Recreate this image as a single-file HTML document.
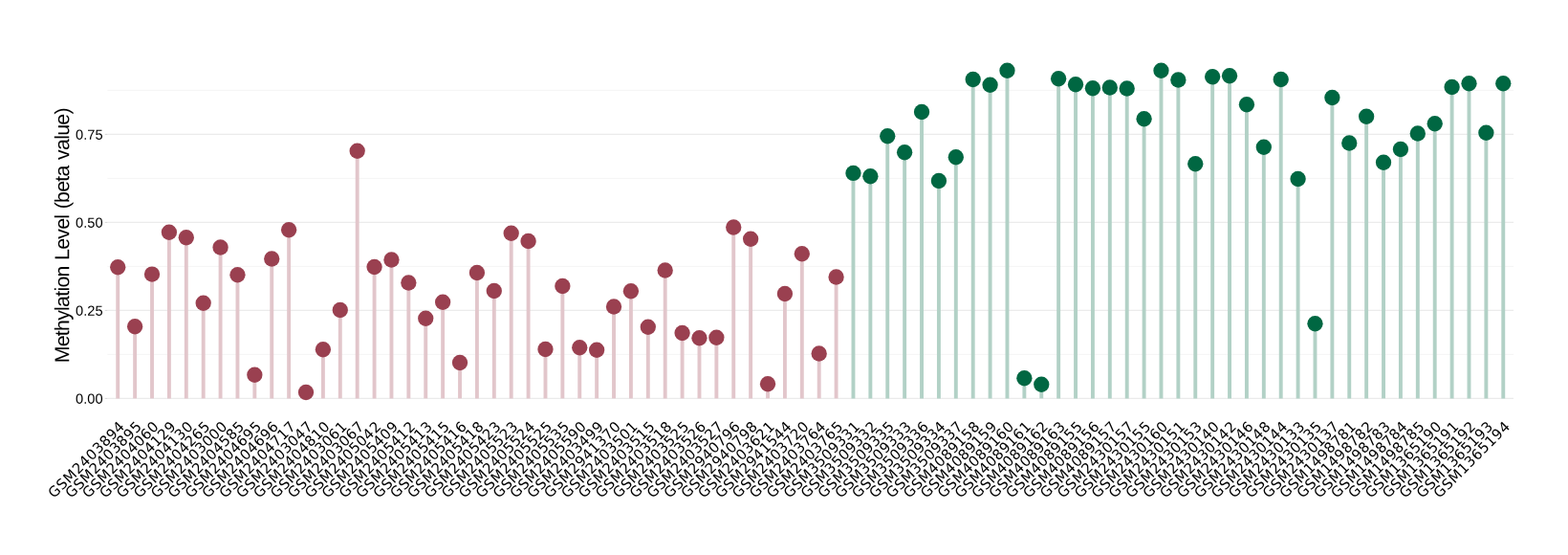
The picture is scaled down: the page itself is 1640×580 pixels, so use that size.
<!DOCTYPE html>
<html lang="en"><head><meta charset="utf-8"><title>Methylation Level</title>
<style>html,body{margin:0;padding:0;background:#fff}body{width:1640px;height:580px;overflow:hidden}svg{display:block}.yl{font-family:"Liberation Sans",sans-serif;font-size:14.67px;fill:#000;text-anchor:end}.yt{font-family:"Liberation Sans",sans-serif;font-size:21.33px;fill:#000;text-anchor:middle;word-spacing:1.2px}.xl{font-family:"DejaVu Sans",sans-serif;font-size:14.93px;fill:#000;text-anchor:end}</style></head><body>
<svg width="1640" height="580" viewBox="0 0 1640 580">
<rect width="1640" height="580" fill="#fff"/>
<line x1="112.50" x2="1583.00" y1="416.40" y2="416.40" stroke="#EBEBEB" stroke-width="1.07"/>
<line x1="109.75" x2="112.50" y1="416.40" y2="416.40" stroke="#D9D9D9" stroke-width="1.07"/>
<line x1="112.50" x2="1583.00" y1="370.40" y2="370.40" stroke="#EBEBEB" stroke-width="0.53"/>
<line x1="112.50" x2="1583.00" y1="324.40" y2="324.40" stroke="#EBEBEB" stroke-width="1.07"/>
<line x1="109.75" x2="112.50" y1="324.40" y2="324.40" stroke="#D9D9D9" stroke-width="1.07"/>
<line x1="112.50" x2="1583.00" y1="278.40" y2="278.40" stroke="#EBEBEB" stroke-width="0.53"/>
<line x1="112.50" x2="1583.00" y1="232.40" y2="232.40" stroke="#EBEBEB" stroke-width="1.07"/>
<line x1="109.75" x2="112.50" y1="232.40" y2="232.40" stroke="#D9D9D9" stroke-width="1.07"/>
<line x1="112.50" x2="1583.00" y1="186.40" y2="186.40" stroke="#EBEBEB" stroke-width="0.53"/>
<line x1="112.50" x2="1583.00" y1="140.40" y2="140.40" stroke="#EBEBEB" stroke-width="1.07"/>
<line x1="109.75" x2="112.50" y1="140.40" y2="140.40" stroke="#D9D9D9" stroke-width="1.07"/>
<line x1="112.50" x2="1583.00" y1="94.40" y2="94.40" stroke="#EBEBEB" stroke-width="0.53"/>
<line x1="123.23" x2="123.23" y1="279.25" y2="416.40" stroke="#E2C6CB" stroke-width="3.9"/>
<line x1="141.12" x2="141.12" y1="341.25" y2="416.40" stroke="#E2C6CB" stroke-width="3.9"/>
<line x1="159.01" x2="159.01" y1="286.60" y2="416.40" stroke="#E2C6CB" stroke-width="3.9"/>
<line x1="176.90" x2="176.90" y1="242.75" y2="416.40" stroke="#E2C6CB" stroke-width="3.9"/>
<line x1="194.79" x2="194.79" y1="248.25" y2="416.40" stroke="#E2C6CB" stroke-width="3.9"/>
<line x1="212.68" x2="212.68" y1="316.75" y2="416.40" stroke="#E2C6CB" stroke-width="3.9"/>
<line x1="230.57" x2="230.57" y1="258.50" y2="416.40" stroke="#E2C6CB" stroke-width="3.9"/>
<line x1="248.46" x2="248.46" y1="287.25" y2="416.40" stroke="#E2C6CB" stroke-width="3.9"/>
<line x1="266.35" x2="266.35" y1="391.75" y2="416.40" stroke="#E2C6CB" stroke-width="3.9"/>
<line x1="284.24" x2="284.24" y1="270.50" y2="416.40" stroke="#E2C6CB" stroke-width="3.9"/>
<line x1="302.13" x2="302.13" y1="240.25" y2="416.40" stroke="#E2C6CB" stroke-width="3.9"/>
<line x1="320.02" x2="320.02" y1="410.00" y2="416.40" stroke="#E2C6CB" stroke-width="3.9"/>
<line x1="337.91" x2="337.91" y1="365.25" y2="416.40" stroke="#E2C6CB" stroke-width="3.9"/>
<line x1="355.79" x2="355.79" y1="324.00" y2="416.40" stroke="#E2C6CB" stroke-width="3.9"/>
<line x1="373.68" x2="373.68" y1="157.75" y2="416.40" stroke="#E2C6CB" stroke-width="3.9"/>
<line x1="391.57" x2="391.57" y1="279.00" y2="416.40" stroke="#E2C6CB" stroke-width="3.9"/>
<line x1="409.46" x2="409.46" y1="271.50" y2="416.40" stroke="#E2C6CB" stroke-width="3.9"/>
<line x1="427.35" x2="427.35" y1="295.50" y2="416.40" stroke="#E2C6CB" stroke-width="3.9"/>
<line x1="445.24" x2="445.24" y1="332.75" y2="416.40" stroke="#E2C6CB" stroke-width="3.9"/>
<line x1="463.13" x2="463.13" y1="315.75" y2="416.40" stroke="#E2C6CB" stroke-width="3.9"/>
<line x1="481.02" x2="481.02" y1="379.00" y2="416.40" stroke="#E2C6CB" stroke-width="3.9"/>
<line x1="498.91" x2="498.91" y1="285.00" y2="416.40" stroke="#E2C6CB" stroke-width="3.9"/>
<line x1="516.80" x2="516.80" y1="304.00" y2="416.40" stroke="#E2C6CB" stroke-width="3.9"/>
<line x1="534.69" x2="534.69" y1="243.75" y2="416.40" stroke="#E2C6CB" stroke-width="3.9"/>
<line x1="552.58" x2="552.58" y1="252.00" y2="416.40" stroke="#E2C6CB" stroke-width="3.9"/>
<line x1="570.47" x2="570.47" y1="365.00" y2="416.40" stroke="#E2C6CB" stroke-width="3.9"/>
<line x1="588.36" x2="588.36" y1="299.00" y2="416.40" stroke="#E2C6CB" stroke-width="3.9"/>
<line x1="606.24" x2="606.24" y1="363.25" y2="416.40" stroke="#E2C6CB" stroke-width="3.9"/>
<line x1="624.13" x2="624.13" y1="365.75" y2="416.40" stroke="#E2C6CB" stroke-width="3.9"/>
<line x1="642.02" x2="642.02" y1="320.50" y2="416.40" stroke="#E2C6CB" stroke-width="3.9"/>
<line x1="659.91" x2="659.91" y1="304.25" y2="416.40" stroke="#E2C6CB" stroke-width="3.9"/>
<line x1="677.80" x2="677.80" y1="341.75" y2="416.40" stroke="#E2C6CB" stroke-width="3.9"/>
<line x1="695.69" x2="695.69" y1="282.50" y2="416.40" stroke="#E2C6CB" stroke-width="3.9"/>
<line x1="713.58" x2="713.58" y1="348.00" y2="416.40" stroke="#E2C6CB" stroke-width="3.9"/>
<line x1="731.47" x2="731.47" y1="353.25" y2="416.40" stroke="#E2C6CB" stroke-width="3.9"/>
<line x1="749.36" x2="749.36" y1="352.75" y2="416.40" stroke="#E2C6CB" stroke-width="3.9"/>
<line x1="767.25" x2="767.25" y1="237.50" y2="416.40" stroke="#E2C6CB" stroke-width="3.9"/>
<line x1="785.14" x2="785.14" y1="249.75" y2="416.40" stroke="#E2C6CB" stroke-width="3.9"/>
<line x1="803.03" x2="803.03" y1="401.25" y2="416.40" stroke="#E2C6CB" stroke-width="3.9"/>
<line x1="820.92" x2="820.92" y1="307.00" y2="416.40" stroke="#E2C6CB" stroke-width="3.9"/>
<line x1="838.81" x2="838.81" y1="265.25" y2="416.40" stroke="#E2C6CB" stroke-width="3.9"/>
<line x1="856.69" x2="856.69" y1="369.50" y2="416.40" stroke="#E2C6CB" stroke-width="3.9"/>
<line x1="874.58" x2="874.58" y1="289.50" y2="416.40" stroke="#E2C6CB" stroke-width="3.9"/>
<line x1="892.47" x2="892.47" y1="180.90" y2="416.40" stroke="#B2D1C6" stroke-width="3.9"/>
<line x1="910.36" x2="910.36" y1="184.25" y2="416.40" stroke="#B2D1C6" stroke-width="3.9"/>
<line x1="928.25" x2="928.25" y1="142.25" y2="416.40" stroke="#B2D1C6" stroke-width="3.9"/>
<line x1="946.14" x2="946.14" y1="159.25" y2="416.40" stroke="#B2D1C6" stroke-width="3.9"/>
<line x1="964.03" x2="964.03" y1="117.00" y2="416.40" stroke="#B2D1C6" stroke-width="3.9"/>
<line x1="981.92" x2="981.92" y1="189.00" y2="416.40" stroke="#B2D1C6" stroke-width="3.9"/>
<line x1="999.81" x2="999.81" y1="164.25" y2="416.40" stroke="#B2D1C6" stroke-width="3.9"/>
<line x1="1017.70" x2="1017.70" y1="83.00" y2="416.40" stroke="#B2D1C6" stroke-width="3.9"/>
<line x1="1035.59" x2="1035.59" y1="88.75" y2="416.40" stroke="#B2D1C6" stroke-width="3.9"/>
<line x1="1053.48" x2="1053.48" y1="73.75" y2="416.40" stroke="#B2D1C6" stroke-width="3.9"/>
<line x1="1071.37" x2="1071.37" y1="395.25" y2="416.40" stroke="#B2D1C6" stroke-width="3.9"/>
<line x1="1089.26" x2="1089.26" y1="401.75" y2="416.40" stroke="#B2D1C6" stroke-width="3.9"/>
<line x1="1107.14" x2="1107.14" y1="82.25" y2="416.40" stroke="#B2D1C6" stroke-width="3.9"/>
<line x1="1125.03" x2="1125.03" y1="88.25" y2="416.40" stroke="#B2D1C6" stroke-width="3.9"/>
<line x1="1142.92" x2="1142.92" y1="92.25" y2="416.40" stroke="#B2D1C6" stroke-width="3.9"/>
<line x1="1160.81" x2="1160.81" y1="91.50" y2="416.40" stroke="#B2D1C6" stroke-width="3.9"/>
<line x1="1178.70" x2="1178.70" y1="92.50" y2="416.40" stroke="#B2D1C6" stroke-width="3.9"/>
<line x1="1196.59" x2="1196.59" y1="124.25" y2="416.40" stroke="#B2D1C6" stroke-width="3.9"/>
<line x1="1214.48" x2="1214.48" y1="73.75" y2="416.40" stroke="#B2D1C6" stroke-width="3.9"/>
<line x1="1232.37" x2="1232.37" y1="83.50" y2="416.40" stroke="#B2D1C6" stroke-width="3.9"/>
<line x1="1250.26" x2="1250.26" y1="171.25" y2="416.40" stroke="#B2D1C6" stroke-width="3.9"/>
<line x1="1268.15" x2="1268.15" y1="80.25" y2="416.40" stroke="#B2D1C6" stroke-width="3.9"/>
<line x1="1286.04" x2="1286.04" y1="79.25" y2="416.40" stroke="#B2D1C6" stroke-width="3.9"/>
<line x1="1303.93" x2="1303.93" y1="109.25" y2="416.40" stroke="#B2D1C6" stroke-width="3.9"/>
<line x1="1321.82" x2="1321.82" y1="153.75" y2="416.40" stroke="#B2D1C6" stroke-width="3.9"/>
<line x1="1339.71" x2="1339.71" y1="83.00" y2="416.40" stroke="#B2D1C6" stroke-width="3.9"/>
<line x1="1357.59" x2="1357.59" y1="187.00" y2="416.40" stroke="#B2D1C6" stroke-width="3.9"/>
<line x1="1375.48" x2="1375.48" y1="338.25" y2="416.40" stroke="#B2D1C6" stroke-width="3.9"/>
<line x1="1393.37" x2="1393.37" y1="102.00" y2="416.40" stroke="#B2D1C6" stroke-width="3.9"/>
<line x1="1411.26" x2="1411.26" y1="149.50" y2="416.40" stroke="#B2D1C6" stroke-width="3.9"/>
<line x1="1429.15" x2="1429.15" y1="121.75" y2="416.40" stroke="#B2D1C6" stroke-width="3.9"/>
<line x1="1447.04" x2="1447.04" y1="169.75" y2="416.40" stroke="#B2D1C6" stroke-width="3.9"/>
<line x1="1464.93" x2="1464.93" y1="156.00" y2="416.40" stroke="#B2D1C6" stroke-width="3.9"/>
<line x1="1482.82" x2="1482.82" y1="139.50" y2="416.40" stroke="#B2D1C6" stroke-width="3.9"/>
<line x1="1500.71" x2="1500.71" y1="129.25" y2="416.40" stroke="#B2D1C6" stroke-width="3.9"/>
<line x1="1518.60" x2="1518.60" y1="91.00" y2="416.40" stroke="#B2D1C6" stroke-width="3.9"/>
<line x1="1536.49" x2="1536.49" y1="87.25" y2="416.40" stroke="#B2D1C6" stroke-width="3.9"/>
<line x1="1554.38" x2="1554.38" y1="138.75" y2="416.40" stroke="#B2D1C6" stroke-width="3.9"/>
<line x1="1572.27" x2="1572.27" y1="87.25" y2="416.40" stroke="#B2D1C6" stroke-width="3.9"/>
<circle cx="123.23" cy="279.25" r="8.15" fill="#9A4050"/>
<circle cx="141.12" cy="341.25" r="8.15" fill="#9A4050"/>
<circle cx="159.01" cy="286.60" r="8.15" fill="#9A4050"/>
<circle cx="176.90" cy="242.75" r="8.15" fill="#9A4050"/>
<circle cx="194.79" cy="248.25" r="8.15" fill="#9A4050"/>
<circle cx="212.68" cy="316.75" r="8.15" fill="#9A4050"/>
<circle cx="230.57" cy="258.50" r="8.15" fill="#9A4050"/>
<circle cx="248.46" cy="287.25" r="8.15" fill="#9A4050"/>
<circle cx="266.35" cy="391.75" r="8.15" fill="#9A4050"/>
<circle cx="284.24" cy="270.50" r="8.15" fill="#9A4050"/>
<circle cx="302.13" cy="240.25" r="8.15" fill="#9A4050"/>
<circle cx="320.02" cy="410.00" r="8.15" fill="#9A4050"/>
<circle cx="337.91" cy="365.25" r="8.15" fill="#9A4050"/>
<circle cx="355.79" cy="324.00" r="8.15" fill="#9A4050"/>
<circle cx="373.68" cy="157.75" r="8.15" fill="#9A4050"/>
<circle cx="391.57" cy="279.00" r="8.15" fill="#9A4050"/>
<circle cx="409.46" cy="271.50" r="8.15" fill="#9A4050"/>
<circle cx="427.35" cy="295.50" r="8.15" fill="#9A4050"/>
<circle cx="445.24" cy="332.75" r="8.15" fill="#9A4050"/>
<circle cx="463.13" cy="315.75" r="8.15" fill="#9A4050"/>
<circle cx="481.02" cy="379.00" r="8.15" fill="#9A4050"/>
<circle cx="498.91" cy="285.00" r="8.15" fill="#9A4050"/>
<circle cx="516.80" cy="304.00" r="8.15" fill="#9A4050"/>
<circle cx="534.69" cy="243.75" r="8.15" fill="#9A4050"/>
<circle cx="552.58" cy="252.00" r="8.15" fill="#9A4050"/>
<circle cx="570.47" cy="365.00" r="8.15" fill="#9A4050"/>
<circle cx="588.36" cy="299.00" r="8.15" fill="#9A4050"/>
<circle cx="606.24" cy="363.25" r="8.15" fill="#9A4050"/>
<circle cx="624.13" cy="365.75" r="8.15" fill="#9A4050"/>
<circle cx="642.02" cy="320.50" r="8.15" fill="#9A4050"/>
<circle cx="659.91" cy="304.25" r="8.15" fill="#9A4050"/>
<circle cx="677.80" cy="341.75" r="8.15" fill="#9A4050"/>
<circle cx="695.69" cy="282.50" r="8.15" fill="#9A4050"/>
<circle cx="713.58" cy="348.00" r="8.15" fill="#9A4050"/>
<circle cx="731.47" cy="353.25" r="8.15" fill="#9A4050"/>
<circle cx="749.36" cy="352.75" r="8.15" fill="#9A4050"/>
<circle cx="767.25" cy="237.50" r="8.15" fill="#9A4050"/>
<circle cx="785.14" cy="249.75" r="8.15" fill="#9A4050"/>
<circle cx="803.03" cy="401.25" r="8.15" fill="#9A4050"/>
<circle cx="820.92" cy="307.00" r="8.15" fill="#9A4050"/>
<circle cx="838.81" cy="265.25" r="8.15" fill="#9A4050"/>
<circle cx="856.69" cy="369.50" r="8.15" fill="#9A4050"/>
<circle cx="874.58" cy="289.50" r="8.15" fill="#9A4050"/>
<circle cx="892.47" cy="180.90" r="8.15" fill="#006742"/>
<circle cx="910.36" cy="184.25" r="8.15" fill="#006742"/>
<circle cx="928.25" cy="142.25" r="8.15" fill="#006742"/>
<circle cx="946.14" cy="159.25" r="8.15" fill="#006742"/>
<circle cx="964.03" cy="117.00" r="8.15" fill="#006742"/>
<circle cx="981.92" cy="189.00" r="8.15" fill="#006742"/>
<circle cx="999.81" cy="164.25" r="8.15" fill="#006742"/>
<circle cx="1017.70" cy="83.00" r="8.15" fill="#006742"/>
<circle cx="1035.59" cy="88.75" r="8.15" fill="#006742"/>
<circle cx="1053.48" cy="73.75" r="8.15" fill="#006742"/>
<circle cx="1071.37" cy="395.25" r="8.15" fill="#006742"/>
<circle cx="1089.26" cy="401.75" r="8.15" fill="#006742"/>
<circle cx="1107.14" cy="82.25" r="8.15" fill="#006742"/>
<circle cx="1125.03" cy="88.25" r="8.15" fill="#006742"/>
<circle cx="1142.92" cy="92.25" r="8.15" fill="#006742"/>
<circle cx="1160.81" cy="91.50" r="8.15" fill="#006742"/>
<circle cx="1178.70" cy="92.50" r="8.15" fill="#006742"/>
<circle cx="1196.59" cy="124.25" r="8.15" fill="#006742"/>
<circle cx="1214.48" cy="73.75" r="8.15" fill="#006742"/>
<circle cx="1232.37" cy="83.50" r="8.15" fill="#006742"/>
<circle cx="1250.26" cy="171.25" r="8.15" fill="#006742"/>
<circle cx="1268.15" cy="80.25" r="8.15" fill="#006742"/>
<circle cx="1286.04" cy="79.25" r="8.15" fill="#006742"/>
<circle cx="1303.93" cy="109.25" r="8.15" fill="#006742"/>
<circle cx="1321.82" cy="153.75" r="8.15" fill="#006742"/>
<circle cx="1339.71" cy="83.00" r="8.15" fill="#006742"/>
<circle cx="1357.59" cy="187.00" r="8.15" fill="#006742"/>
<circle cx="1375.48" cy="338.25" r="8.15" fill="#006742"/>
<circle cx="1393.37" cy="102.00" r="8.15" fill="#006742"/>
<circle cx="1411.26" cy="149.50" r="8.15" fill="#006742"/>
<circle cx="1429.15" cy="121.75" r="8.15" fill="#006742"/>
<circle cx="1447.04" cy="169.75" r="8.15" fill="#006742"/>
<circle cx="1464.93" cy="156.00" r="8.15" fill="#006742"/>
<circle cx="1482.82" cy="139.50" r="8.15" fill="#006742"/>
<circle cx="1500.71" cy="129.25" r="8.15" fill="#006742"/>
<circle cx="1518.60" cy="91.00" r="8.15" fill="#006742"/>
<circle cx="1536.49" cy="87.25" r="8.15" fill="#006742"/>
<circle cx="1554.38" cy="138.75" r="8.15" fill="#006742"/>
<circle cx="1572.27" cy="87.25" r="8.15" fill="#006742"/>
<text class="yl" transform="translate(107.6,421.70) rotate(0.03)">0.00</text>
<text class="yl" transform="translate(107.6,329.70) rotate(0.03)">0.25</text>
<text class="yl" transform="translate(107.6,237.70) rotate(0.03)">0.50</text>
<text class="yl" transform="translate(107.6,145.70) rotate(0.03)">0.75</text>
<text class="yt" transform="translate(72.2,245.9) rotate(-90.03)" textLength="266.8" lengthAdjust="spacing">Methylation Level (beta value)</text>
<text class="xl" transform="translate(123.03,438.80) rotate(-45)" x="0" y="11.35" textLength="105.4" lengthAdjust="spacing">GSM2403894</text>
<text class="xl" transform="translate(140.92,438.80) rotate(-45)" x="0" y="11.35" textLength="105.4" lengthAdjust="spacing">GSM2403895</text>
<text class="xl" transform="translate(158.81,438.80) rotate(-45)" x="0" y="11.35" textLength="105.4" lengthAdjust="spacing">GSM2404060</text>
<text class="xl" transform="translate(176.70,438.80) rotate(-45)" x="0" y="11.35" textLength="105.4" lengthAdjust="spacing">GSM2404129</text>
<text class="xl" transform="translate(194.59,438.80) rotate(-45)" x="0" y="11.35" textLength="105.4" lengthAdjust="spacing">GSM2404130</text>
<text class="xl" transform="translate(212.48,438.80) rotate(-45)" x="0" y="11.35" textLength="105.4" lengthAdjust="spacing">GSM2404265</text>
<text class="xl" transform="translate(230.37,438.80) rotate(-45)" x="0" y="11.35" textLength="105.4" lengthAdjust="spacing">GSM2403000</text>
<text class="xl" transform="translate(248.26,438.80) rotate(-45)" x="0" y="11.35" textLength="105.4" lengthAdjust="spacing">GSM2404585</text>
<text class="xl" transform="translate(266.15,438.80) rotate(-45)" x="0" y="11.35" textLength="105.4" lengthAdjust="spacing">GSM2404695</text>
<text class="xl" transform="translate(284.04,438.80) rotate(-45)" x="0" y="11.35" textLength="105.4" lengthAdjust="spacing">GSM2404696</text>
<text class="xl" transform="translate(301.93,438.80) rotate(-45)" x="0" y="11.35" textLength="105.4" lengthAdjust="spacing">GSM2404717</text>
<text class="xl" transform="translate(319.82,438.80) rotate(-45)" x="0" y="11.35" textLength="105.4" lengthAdjust="spacing">GSM2403047</text>
<text class="xl" transform="translate(337.71,438.80) rotate(-45)" x="0" y="11.35" textLength="105.4" lengthAdjust="spacing">GSM2404810</text>
<text class="xl" transform="translate(355.59,438.80) rotate(-45)" x="0" y="11.35" textLength="105.4" lengthAdjust="spacing">GSM2403061</text>
<text class="xl" transform="translate(373.48,438.80) rotate(-45)" x="0" y="11.35" textLength="105.4" lengthAdjust="spacing">GSM2403067</text>
<text class="xl" transform="translate(391.37,438.80) rotate(-45)" x="0" y="11.35" textLength="105.4" lengthAdjust="spacing">GSM2405042</text>
<text class="xl" transform="translate(409.26,438.80) rotate(-45)" x="0" y="11.35" textLength="105.4" lengthAdjust="spacing">GSM2405409</text>
<text class="xl" transform="translate(427.15,438.80) rotate(-45)" x="0" y="11.35" textLength="105.4" lengthAdjust="spacing">GSM2405412</text>
<text class="xl" transform="translate(445.04,438.80) rotate(-45)" x="0" y="11.35" textLength="105.4" lengthAdjust="spacing">GSM2405413</text>
<text class="xl" transform="translate(462.93,438.80) rotate(-45)" x="0" y="11.35" textLength="105.4" lengthAdjust="spacing">GSM2405415</text>
<text class="xl" transform="translate(480.82,438.80) rotate(-45)" x="0" y="11.35" textLength="105.4" lengthAdjust="spacing">GSM2405416</text>
<text class="xl" transform="translate(498.71,438.80) rotate(-45)" x="0" y="11.35" textLength="105.4" lengthAdjust="spacing">GSM2405418</text>
<text class="xl" transform="translate(516.60,438.80) rotate(-45)" x="0" y="11.35" textLength="105.4" lengthAdjust="spacing">GSM2405423</text>
<text class="xl" transform="translate(534.49,438.80) rotate(-45)" x="0" y="11.35" textLength="105.4" lengthAdjust="spacing">GSM2405523</text>
<text class="xl" transform="translate(552.38,438.80) rotate(-45)" x="0" y="11.35" textLength="105.4" lengthAdjust="spacing">GSM2405524</text>
<text class="xl" transform="translate(570.27,438.80) rotate(-45)" x="0" y="11.35" textLength="105.4" lengthAdjust="spacing">GSM2405525</text>
<text class="xl" transform="translate(588.16,438.80) rotate(-45)" x="0" y="11.35" textLength="105.4" lengthAdjust="spacing">GSM2405535</text>
<text class="xl" transform="translate(606.04,438.80) rotate(-45)" x="0" y="11.35" textLength="105.4" lengthAdjust="spacing">GSM2405590</text>
<text class="xl" transform="translate(623.93,438.80) rotate(-45)" x="0" y="11.35" textLength="105.4" lengthAdjust="spacing">GSM2403499</text>
<text class="xl" transform="translate(641.82,438.80) rotate(-45)" x="0" y="11.35" textLength="105.4" lengthAdjust="spacing">GSM2941370</text>
<text class="xl" transform="translate(659.71,438.80) rotate(-45)" x="0" y="11.35" textLength="105.4" lengthAdjust="spacing">GSM2403501</text>
<text class="xl" transform="translate(677.60,438.80) rotate(-45)" x="0" y="11.35" textLength="105.4" lengthAdjust="spacing">GSM2403515</text>
<text class="xl" transform="translate(695.49,438.80) rotate(-45)" x="0" y="11.35" textLength="105.4" lengthAdjust="spacing">GSM2403518</text>
<text class="xl" transform="translate(713.38,438.80) rotate(-45)" x="0" y="11.35" textLength="105.4" lengthAdjust="spacing">GSM2403525</text>
<text class="xl" transform="translate(731.27,438.80) rotate(-45)" x="0" y="11.35" textLength="105.4" lengthAdjust="spacing">GSM2403526</text>
<text class="xl" transform="translate(749.16,438.80) rotate(-45)" x="0" y="11.35" textLength="105.4" lengthAdjust="spacing">GSM2403527</text>
<text class="xl" transform="translate(767.05,438.80) rotate(-45)" x="0" y="11.35" textLength="105.4" lengthAdjust="spacing">GSM2940796</text>
<text class="xl" transform="translate(784.94,438.80) rotate(-45)" x="0" y="11.35" textLength="105.4" lengthAdjust="spacing">GSM2940798</text>
<text class="xl" transform="translate(802.83,438.80) rotate(-45)" x="0" y="11.35" textLength="105.4" lengthAdjust="spacing">GSM2403621</text>
<text class="xl" transform="translate(820.72,438.80) rotate(-45)" x="0" y="11.35" textLength="105.4" lengthAdjust="spacing">GSM2941544</text>
<text class="xl" transform="translate(838.61,438.80) rotate(-45)" x="0" y="11.35" textLength="105.4" lengthAdjust="spacing">GSM2403720</text>
<text class="xl" transform="translate(856.49,438.80) rotate(-45)" x="0" y="11.35" textLength="105.4" lengthAdjust="spacing">GSM2403764</text>
<text class="xl" transform="translate(874.38,438.80) rotate(-45)" x="0" y="11.35" textLength="105.4" lengthAdjust="spacing">GSM2403765</text>
<text class="xl" transform="translate(892.27,438.80) rotate(-45)" x="0" y="11.35" textLength="105.4" lengthAdjust="spacing">GSM3509331</text>
<text class="xl" transform="translate(910.16,438.80) rotate(-45)" x="0" y="11.35" textLength="105.4" lengthAdjust="spacing">GSM3509332</text>
<text class="xl" transform="translate(928.05,438.80) rotate(-45)" x="0" y="11.35" textLength="105.4" lengthAdjust="spacing">GSM3509335</text>
<text class="xl" transform="translate(945.94,438.80) rotate(-45)" x="0" y="11.35" textLength="105.4" lengthAdjust="spacing">GSM3509333</text>
<text class="xl" transform="translate(963.83,438.80) rotate(-45)" x="0" y="11.35" textLength="105.4" lengthAdjust="spacing">GSM3509336</text>
<text class="xl" transform="translate(981.72,438.80) rotate(-45)" x="0" y="11.35" textLength="105.4" lengthAdjust="spacing">GSM3509334</text>
<text class="xl" transform="translate(999.61,438.80) rotate(-45)" x="0" y="11.35" textLength="105.4" lengthAdjust="spacing">GSM3509337</text>
<text class="xl" transform="translate(1017.50,438.80) rotate(-45)" x="0" y="11.35" textLength="105.4" lengthAdjust="spacing">GSM4089158</text>
<text class="xl" transform="translate(1035.39,438.80) rotate(-45)" x="0" y="11.35" textLength="105.4" lengthAdjust="spacing">GSM4089159</text>
<text class="xl" transform="translate(1053.28,438.80) rotate(-45)" x="0" y="11.35" textLength="105.4" lengthAdjust="spacing">GSM4089160</text>
<text class="xl" transform="translate(1071.17,438.80) rotate(-45)" x="0" y="11.35" textLength="105.4" lengthAdjust="spacing">GSM4089161</text>
<text class="xl" transform="translate(1089.06,438.80) rotate(-45)" x="0" y="11.35" textLength="105.4" lengthAdjust="spacing">GSM4089162</text>
<text class="xl" transform="translate(1106.94,438.80) rotate(-45)" x="0" y="11.35" textLength="105.4" lengthAdjust="spacing">GSM4089163</text>
<text class="xl" transform="translate(1124.83,438.80) rotate(-45)" x="0" y="11.35" textLength="105.4" lengthAdjust="spacing">GSM4089155</text>
<text class="xl" transform="translate(1142.72,438.80) rotate(-45)" x="0" y="11.35" textLength="105.4" lengthAdjust="spacing">GSM4089156</text>
<text class="xl" transform="translate(1160.61,438.80) rotate(-45)" x="0" y="11.35" textLength="105.4" lengthAdjust="spacing">GSM4089157</text>
<text class="xl" transform="translate(1178.50,438.80) rotate(-45)" x="0" y="11.35" textLength="105.4" lengthAdjust="spacing">GSM2430157</text>
<text class="xl" transform="translate(1196.39,438.80) rotate(-45)" x="0" y="11.35" textLength="105.4" lengthAdjust="spacing">GSM2430155</text>
<text class="xl" transform="translate(1214.28,438.80) rotate(-45)" x="0" y="11.35" textLength="105.4" lengthAdjust="spacing">GSM2430160</text>
<text class="xl" transform="translate(1232.17,438.80) rotate(-45)" x="0" y="11.35" textLength="105.4" lengthAdjust="spacing">GSM2430151</text>
<text class="xl" transform="translate(1250.06,438.80) rotate(-45)" x="0" y="11.35" textLength="105.4" lengthAdjust="spacing">GSM2430153</text>
<text class="xl" transform="translate(1267.95,438.80) rotate(-45)" x="0" y="11.35" textLength="105.4" lengthAdjust="spacing">GSM2430140</text>
<text class="xl" transform="translate(1285.84,438.80) rotate(-45)" x="0" y="11.35" textLength="105.4" lengthAdjust="spacing">GSM2430142</text>
<text class="xl" transform="translate(1303.73,438.80) rotate(-45)" x="0" y="11.35" textLength="105.4" lengthAdjust="spacing">GSM2430146</text>
<text class="xl" transform="translate(1321.62,438.80) rotate(-45)" x="0" y="11.35" textLength="105.4" lengthAdjust="spacing">GSM2430148</text>
<text class="xl" transform="translate(1339.51,438.80) rotate(-45)" x="0" y="11.35" textLength="105.4" lengthAdjust="spacing">GSM2430144</text>
<text class="xl" transform="translate(1357.39,438.80) rotate(-45)" x="0" y="11.35" textLength="105.4" lengthAdjust="spacing">GSM2430133</text>
<text class="xl" transform="translate(1375.28,438.80) rotate(-45)" x="0" y="11.35" textLength="105.4" lengthAdjust="spacing">GSM2430135</text>
<text class="xl" transform="translate(1393.17,438.80) rotate(-45)" x="0" y="11.35" textLength="105.4" lengthAdjust="spacing">GSM2430137</text>
<text class="xl" transform="translate(1411.06,438.80) rotate(-45)" x="0" y="11.35" textLength="105.4" lengthAdjust="spacing">GSM1498781</text>
<text class="xl" transform="translate(1428.95,438.80) rotate(-45)" x="0" y="11.35" textLength="105.4" lengthAdjust="spacing">GSM1498782</text>
<text class="xl" transform="translate(1446.84,438.80) rotate(-45)" x="0" y="11.35" textLength="105.4" lengthAdjust="spacing">GSM1498783</text>
<text class="xl" transform="translate(1464.73,438.80) rotate(-45)" x="0" y="11.35" textLength="105.4" lengthAdjust="spacing">GSM1498784</text>
<text class="xl" transform="translate(1482.62,438.80) rotate(-45)" x="0" y="11.35" textLength="105.4" lengthAdjust="spacing">GSM1498785</text>
<text class="xl" transform="translate(1500.51,438.80) rotate(-45)" x="0" y="11.35" textLength="105.4" lengthAdjust="spacing">GSM1365190</text>
<text class="xl" transform="translate(1518.40,438.80) rotate(-45)" x="0" y="11.35" textLength="105.4" lengthAdjust="spacing">GSM1365191</text>
<text class="xl" transform="translate(1536.29,438.80) rotate(-45)" x="0" y="11.35" textLength="105.4" lengthAdjust="spacing">GSM1365192</text>
<text class="xl" transform="translate(1554.18,438.80) rotate(-45)" x="0" y="11.35" textLength="105.4" lengthAdjust="spacing">GSM1365193</text>
<text class="xl" transform="translate(1572.07,438.80) rotate(-45)" x="0" y="11.35" textLength="105.4" lengthAdjust="spacing">GSM1365194</text>
</svg></body></html>
